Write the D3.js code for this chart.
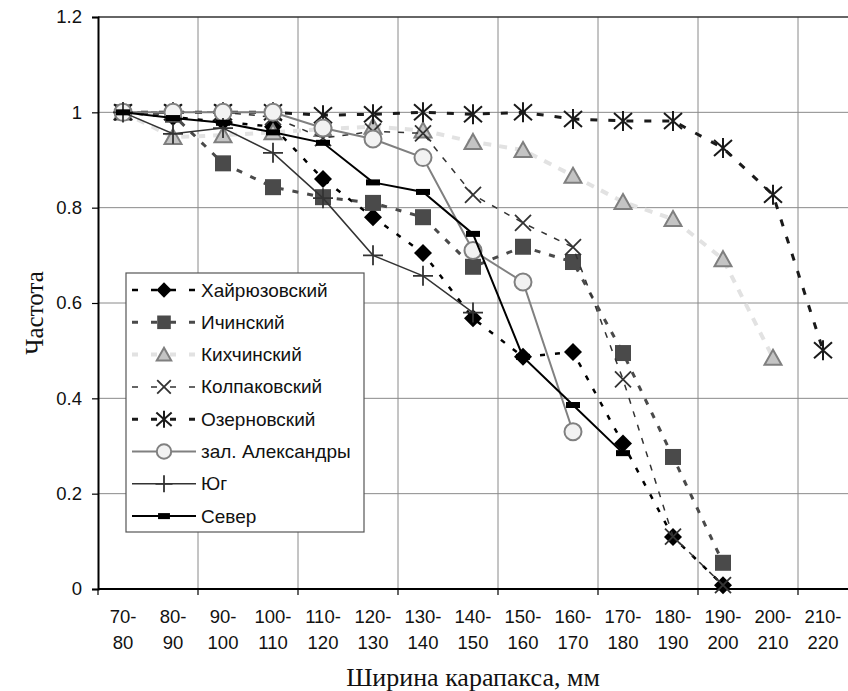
<!DOCTYPE html>
<html>
<head>
<meta charset="utf-8">
<script src="https://cdn.jsdelivr.net/npm/d3@7"></script>
<style>
  body { margin: 0; background: #fff; }
  svg { display: block; }
</style>
</head>
<body>
<div id="chart"></div>
<script>
(function() {

  // categories (carapace width classes)
  var categories = ['70-80', '80-90', '90-100', '100-110', '110-120', '120-130', '130-140',
    '140-150', '150-160', '160-170', '170-180', '180-190', '190-200', '200-210', '210-220'];

  var yTicks = [0, 0.2, 0.4, 0.6, 0.8, 1, 1.2];

  // series values
  var khairyuzovsky = [1, 0.99, 0.98, 0.97, 0.86, 0.78, 0.705, 0.568, 0.487, 0.497, 0.305, 0.109, 0.008];
  var ichinsky      = [1, 0.995, 0.893, 0.843, 0.822, 0.81, 0.78, 0.676, 0.718, 0.686, 0.495, 0.277, 0.055];
  var kikhchinsky   = [1, 0.948, 0.952, 0.958, 0.965, 0.97, 0.962, 0.938, 0.921, 0.867, 0.812, 0.776, 0.692, 0.485];
  var kolpakovsky   = [1, 1, 1, 0.99, 0.946, 0.96, 0.956, 0.827, 0.768, 0.717, 0.44, 0.11, 0.008];
  var ozernovsky    = [1, 1, 1, 1, 0.994, 0.996, 1, 0.996, 1, 0.986, 0.982, 0.982, 0.925, 0.827, 0.501];
  var aleksandry    = [1, 1, 1, 1, 0.967, 0.944, 0.905, 0.71, 0.644, 0.33];
  var yug           = [1, 0.955, 0.967, 0.915, 0.82, 0.70, 0.657, 0.58];
  var sever         = [1, 0.988, 0.978, 0.958, 0.936, 0.853, 0.833, 0.745, 0.487, 0.386, 0.285];

  var seriesNames = ['Хайрюзовский', 'Ичинский', 'Кихчинский', 'Колпаковский', 'Озерновский',
    'зал. Александры', 'Юг', 'Север'];

  // styles for each series, same order as names
  var styles = [
    { values: khairyuzovsky, stroke: '#000', width: 2.5, dash: '5,10', marker: 'diamond' },
    { values: ichinsky, stroke: '#4a4a4a', width: 3, dash: '6,9', marker: 'square' },
    { values: kikhchinsky, stroke: '#e2e2e2', width: 4, dash: '8,8', marker: 'triangle' },
    { values: kolpakovsky, stroke: '#333', width: 1.5, dash: '6,8', marker: 'x' },
    { values: ozernovsky, stroke: '#1a1a1a', width: 3, dash: '7,11', marker: 'star' },
    { values: aleksandry, stroke: '#808080', width: 2, dash: null, marker: 'circle' },
    { values: yug, stroke: '#333', width: 1.5, dash: null, marker: 'plus' },
    { values: sever, stroke: '#000', width: 2, dash: null, marker: 'bar' }
  ];

  var width = 848,
    height = 691,
    left = 98,
    right = 848,
    top = 17,
    bottom = 589;

  var font = '"Liberation Sans", Arial, sans-serif',
    serif = '"Liberation Serif", "Times New Roman", serif';

  var svg = d3.select('#chart').append('svg')
    .attr('width', width)
    .attr('height', height);

  var xBand = d3.scaleBand().domain(categories).range([left, right]).padding(0);
  var x = function(c) { return xBand(c) + xBand.bandwidth() / 2; };
  var y = d3.scaleLinear().domain([0, 1.2]).range([bottom, top]);

  // gridlines
  var grid = svg.append('g').attr('class', 'grid');
  grid.selectAll('line.h')
    .data(yTicks.filter(function(t) { return t > 0 && t < 1.2; }))
    .enter().append('line')
    .attr('class', 'h')
    .attr('x1', left).attr('x2', right)
    .attr('y1', function(d) { return y(d); })
    .attr('y2', function(d) { return y(d); })
    .attr('stroke', '#8a8a8a').attr('stroke-width', 1);

  var boundaries = categories.filter(function(c, i) { return i % 2 === 0; });
  grid.selectAll('line.v')
    .data(boundaries.slice(1))
    .enter().append('line')
    .attr('class', 'v')
    .attr('x1', function(d) { return xBand(d); })
    .attr('x2', function(d) { return xBand(d); })
    .attr('y1', top).attr('y2', bottom)
    .attr('stroke', '#8a8a8a').attr('stroke-width', 1);

  // top border
  svg.append('line')
    .attr('x1', left).attr('x2', right)
    .attr('y1', y(1.2)).attr('y2', y(1.2))
    .attr('stroke', '#333').attr('stroke-width', 1.5);

  // y axis
  var yAxis = d3.axisLeft(y)
    .tickValues(yTicks)
    .tickSize(6)
    .tickPadding(10)
    .tickFormat(function(d) { return String(+d.toFixed(1)); });

  var yG = svg.append('g')
    .attr('transform', 'translate(' + left + ',0)')
    .call(yAxis);
  yG.select('.domain').attr('stroke', '#000').attr('stroke-width', 2);
  yG.selectAll('.tick line').attr('stroke', '#000').attr('stroke-width', 1.2);
  yG.selectAll('.tick text')
    .attr('font-family', font).attr('font-size', 18.5).attr('fill', '#111');

  // x axis: line and tick marks every 2 classes
  svg.append('line')
    .attr('x1', left).attr('x2', right)
    .attr('y1', bottom).attr('y2', bottom)
    .attr('stroke', '#000').attr('stroke-width', 2);

  svg.selectAll('line.xtick')
    .data(boundaries)
    .enter().append('line')
    .attr('class', 'xtick')
    .attr('x1', function(d) { return xBand(d); })
    .attr('x2', function(d) { return xBand(d); })
    .attr('y1', bottom).attr('y2', bottom + 6)
    .attr('stroke', '#000').attr('stroke-width', 1.2);

  var xLabels = svg.append('g').selectAll('text')
    .data(categories)
    .enter().append('text')
    .attr('text-anchor', 'middle')
    .attr('font-family', font).attr('font-size', 18.5).attr('fill', '#111');
  xLabels.append('tspan')
    .attr('x', function(d) { return x(d); })
    .attr('y', bottom + 34)
    .text(function(d) { return d.split('-')[0] + '-'; });
  xLabels.append('tspan')
    .attr('x', function(d) { return x(d); })
    .attr('y', bottom + 60)
    .text(function(d) { return d.split('-')[1]; });

  // axis titles
  svg.append('text')
    .attr('x', (left + right) / 2)
    .attr('y', 686)
    .attr('text-anchor', 'middle')
    .attr('font-family', serif).attr('font-size', 26).attr('fill', '#111')
    .text('Ширина карапакса, мм');

  svg.append('text')
    .attr('transform', 'translate(43,' + ((top + bottom) / 2 + 10) + ') rotate(-90)')
    .attr('text-anchor', 'middle')
    .attr('font-family', serif).attr('font-size', 25).attr('fill', '#111')
    .text('Частота');

  // marker drawing
  function drawMarker(g, type, s) {
    s = s || 1;
    if (type === 'diamond') {
      g.append('path').attr('d', 'M0,' + (-9 * s) + 'L' + (9 * s) + ',0L0,' + (9 * s) + 'L' + (-9 * s) + ',0Z')
        .attr('fill', '#000');
    } else if (type === 'square') {
      g.append('rect').attr('x', -8 * s).attr('y', -8 * s).attr('width', 16 * s).attr('height', 16 * s)
        .attr('fill', '#4a4a4a');
    } else if (type === 'triangle') {
      g.append('path').attr('d', 'M0,' + (-8 * s) + 'L' + (8.5 * s) + ',' + (7 * s) + 'L' + (-8.5 * s) + ',' + (7 * s) + 'Z')
        .attr('fill', '#c4c4c4').attr('stroke', '#7f7f7f').attr('stroke-width', 2);
    } else if (type === 'x') {
      g.append('path').attr('d', 'M' + (-8 * s) + ',' + (-8 * s) + 'L' + (8 * s) + ',' + (8 * s) +
        'M' + (8 * s) + ',' + (-8 * s) + 'L' + (-8 * s) + ',' + (8 * s))
        .attr('stroke', '#333').attr('stroke-width', 1.8).attr('fill', 'none');
    } else if (type === 'star') {
      g.append('path').attr('d', 'M' + (-9 * s) + ',' + (-8 * s) + 'L' + (9 * s) + ',' + (8 * s) +
        'M' + (9 * s) + ',' + (-8 * s) + 'L' + (-9 * s) + ',' + (8 * s) +
        'M0,' + (-10 * s) + 'L0,' + (10 * s))
        .attr('stroke', '#1a1a1a').attr('stroke-width', 2).attr('fill', 'none');
    } else if (type === 'circle') {
      g.append('circle').attr('r', 8.5 * s)
        .attr('fill', '#f2f2f2').attr('stroke', '#808080').attr('stroke-width', 2);
    } else if (type === 'plus') {
      g.append('path').attr('d', 'M' + (-10 * s) + ',0L' + (10 * s) + ',0M0,' + (-10 * s) + 'L0,' + (10 * s))
        .attr('stroke', '#333').attr('stroke-width', 1.8).attr('fill', 'none');
    } else if (type === 'bar') {
      g.append('rect').attr('x', -7 * s).attr('y', -3).attr('width', 14 * s).attr('height', 6)
        .attr('fill', '#000');
    }
  }

  var line = d3.line()
    .x(function(d) { return x(d.cat); })
    .y(function(d) { return y(d.value); });

  var seriesG = svg.append('g').attr('class', 'series');

  styles.forEach(function(st, i) {
    var pts = st.values.map(function(v, j) { return { cat: categories[j], value: v }; });
    var g = seriesG.append('g');
    g.append('path')
      .datum(pts)
      .attr('d', line)
      .attr('fill', 'none')
      .attr('stroke', st.stroke)
      .attr('stroke-width', st.width)
      .attr('stroke-dasharray', st.dash);
    g.selectAll('g.mk')
      .data(pts)
      .enter().append('g')
      .attr('class', 'mk')
      .attr('transform', function(d) { return 'translate(' + x(d.cat) + ',' + y(d.value) + ')'; })
      .each(function() { drawMarker(d3.select(this), st.marker, 1); });
  });

  // legend
  var legend = svg.append('g').attr('transform', 'translate(126,273)');
  legend.append('rect')
    .attr('width', 238).attr('height', 259)
    .attr('fill', '#fff').attr('stroke', '#555').attr('stroke-width', 1.2);

  seriesNames.forEach(function(name, i) {
    var st = styles[i],
      ry = 17 + i * 32.3;
    var row = legend.append('g').attr('transform', 'translate(0,' + ry + ')');
    row.append('line')
      .attr('x1', 6).attr('x2', 70)
      .attr('stroke', st.stroke)
      .attr('stroke-width', st.width)
      .attr('stroke-dasharray', st.dash ? '6,13' : null);
    var mk = row.append('g').attr('transform', 'translate(38,0)');
    drawMarker(mk, st.marker, 0.85);
    row.append('text')
      .attr('x', 75).attr('y', 6.5)
      .attr('font-family', font).attr('font-size', 19).attr('fill', '#111')
      .text(name);
  });

})();
</script>
</body>
</html>
